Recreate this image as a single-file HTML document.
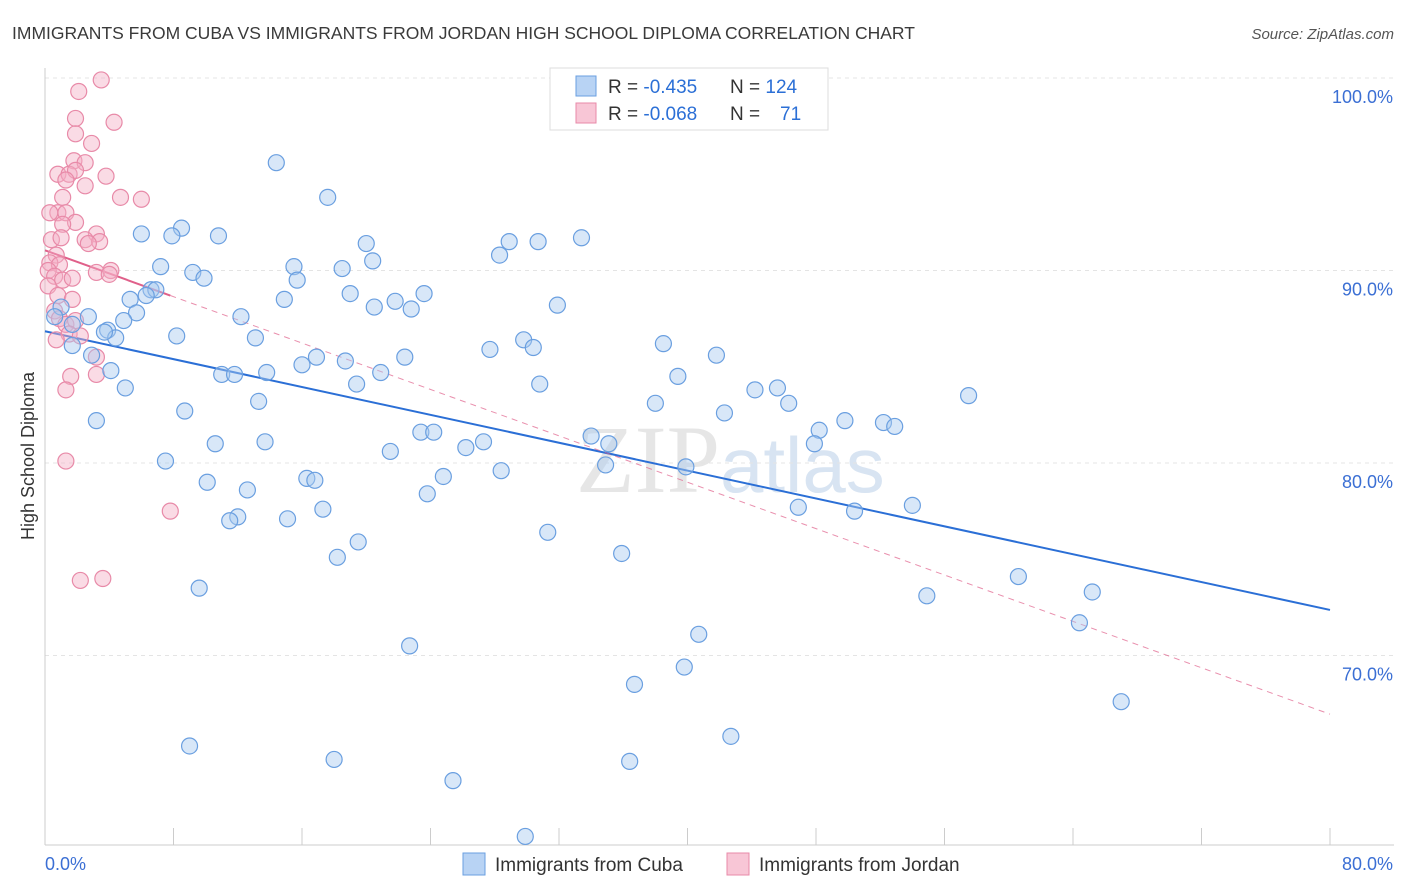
<!DOCTYPE html>
<html><head><meta charset="utf-8"><style>
body{margin:0;background:#fff;font-family:"Liberation Sans",sans-serif;}
svg{display:block}
</style></head><body>
<svg id="chart" width="1406" height="892">
<text x="12" y="39" font-size="17.5" fill="#3a3a3a">IMMIGRANTS FROM CUBA VS IMMIGRANTS FROM JORDAN HIGH SCHOOL DIPLOMA CORRELATION CHART</text>
<text x="1394" y="39" font-size="15" fill="#555" font-style="italic" text-anchor="end">Source: ZipAtlas.com</text>
<text x="720" y="492" font-size="96" fill="#e6e6e6" text-anchor="end" font-family="Liberation Serif,serif">ZIP</text>
<text x="720" y="492" font-size="78" fill="#d8e4f2">atlas</text>
<text transform="translate(34,456) rotate(-90)" font-size="18" fill="#333" text-anchor="middle">High School Diploma</text>
<g id="grid"></g><g id="ticks"></g><g id="lines"></g><g id="pts"></g>
<g>
<rect x="550" y="68" width="278" height="62" fill="#fff" stroke="#ddd"/>
<rect x="576" y="76" width="20" height="20" fill="#b8d3f4" stroke="#6a9fe0"/>
<rect x="576" y="103" width="20" height="20" fill="#f8c6d6" stroke="#e88aa8"/>
<text x="608" y="93" font-size="19" fill="#333">R = <tspan fill="#2b6fd6">-0.435</tspan><tspan x="730">N = </tspan><tspan fill="#2b6fd6">124</tspan></text>
<text x="608" y="120" font-size="19" fill="#333">R = <tspan fill="#2b6fd6">-0.068</tspan><tspan x="730">N = </tspan><tspan x="780" fill="#2b6fd6">71</tspan></text>
</g>
<g>
<rect x="463" y="853" width="22" height="22" fill="#b8d3f4" stroke="#6a9fe0"/>
<text x="495" y="871" font-size="19" fill="#333">Immigrants from Cuba</text>
<rect x="727" y="853" width="22" height="22" fill="#f8c6d6" stroke="#e88aa8"/>
<text x="759" y="871" font-size="19" fill="#333">Immigrants from Jordan</text>
</g>
</svg>
<script>
const cubaX=[14.4,17.6,8.5,6.0,7.9,10.8,20.0,28.9,30.7,33.4,28.3,20.4,7.2,15.5,18.5,9.2,9.9,15.7,6.6,6.9,6.3,5.3,14.9,19.0,21.8,23.6,20.5,22.8,31.9,1.0,0.6,2.7,5.7,4.9,12.2,1.7,3.9,8.2,4.4,13.1,3.7,1.7,29.8,30.4,27.7,38.5,41.8,2.9,16.9,16.0,18.7,22.4,4.1,13.8,20.9,11.0,11.8,39.4,19.4,30.8,5.0,44.2,45.6,57.5,13.3,38.0,46.3,8.7,42.3,3.2,49.8,52.2,52.9,48.2,23.4,24.2,34.0,13.7,10.6,27.3,35.1,26.2,47.9,21.5,7.5,34.9,39.9,28.4,24.8,16.3,16.8,10.1,23.8,12.6,46.9,54.0,50.4,17.3,12.0,11.5,15.1,31.3,19.5,35.9,18.2,60.6,9.6,65.2,54.9,64.4,40.7,22.7,39.8,36.7,67.0,42.7,9.0,18.0,36.4,25.4,29.9];
const cubaY=[95.6,93.8,92.2,91.9,91.8,91.8,91.4,91.5,91.5,91.7,90.8,90.5,90.2,90.2,90.1,89.9,89.6,89.5,89.0,89.0,88.7,88.5,88.5,88.8,88.4,88.8,88.1,88.0,88.2,88.1,87.6,87.6,87.8,87.4,87.6,87.2,86.9,86.6,86.5,86.5,86.8,86.1,86.4,86.0,85.9,86.2,85.6,85.6,85.5,85.1,85.3,85.5,84.8,84.7,84.7,84.6,84.6,84.5,84.1,84.1,83.9,83.8,83.9,83.5,83.2,83.1,83.1,82.7,82.6,82.2,82.2,82.1,81.9,81.7,81.6,81.6,81.4,81.1,81.0,81.1,81.0,80.8,81.0,80.6,80.1,79.9,79.8,79.6,79.3,79.2,79.1,79.0,78.4,78.6,77.7,77.8,77.5,77.6,77.2,77.0,77.1,76.4,75.9,75.3,75.1,74.1,73.5,73.3,73.1,71.7,71.1,70.5,69.4,68.5,67.6,65.8,65.3,64.6,64.5,63.5,60.6];
const jorX=[3.5,2.1,4.3,1.9,1.9,2.9,1.8,2.5,0.8,1.5,1.9,3.8,1.3,2.5,4.7,6.0,1.1,0.8,1.3,1.9,1.1,0.3,3.2,2.5,3.4,0.4,1.0,2.7,0.7,0.3,0.9,0.2,0.6,1.1,1.7,3.2,4.1,4.0,0.2,0.8,1.7,0.6,0.9,1.3,1.9,1.5,0.7,2.2,3.2,1.6,3.2,1.3,1.3,7.8,2.2,3.6];
const jorY=[99.9,99.3,97.7,97.9,97.1,96.6,95.7,95.6,95.0,95.0,95.2,94.9,94.7,94.4,93.8,93.7,93.8,93.0,93.0,92.5,92.4,93.0,91.9,91.6,91.5,91.6,91.7,91.4,90.8,90.4,90.3,90.0,89.7,89.5,89.6,89.9,90.0,89.8,89.2,88.7,88.5,87.9,87.5,87.2,87.4,86.7,86.4,86.6,85.5,84.5,84.6,83.8,80.1,77.5,73.9,74.0];
const yTicks=[100,90,80,70];
const xTickLabels=["0.0%","80.0%"];
const NS="http://www.w3.org/2000/svg";
const X0=45,X1=1330,Y100=78,PXPER=19.25;
const sx=v=>X0+(v/80)*(X1-X0);
const sy=v=>Y100+(100-v)*PXPER;
function mk(p,tag,a){const e=document.createElementNS(NS,tag);for(const k in a)e.setAttribute(k,a[k]);p.appendChild(e);return e;}
const grid=document.getElementById('grid'),ticks=document.getElementById('ticks'),lines=document.getElementById('lines'),pts=document.getElementById('pts');
yTicks.forEach(t=>{
 const l=mk(grid,'line',{x1:X0,x2:1394,y1:sy(t),y2:sy(t),stroke:'#e4e4e4','stroke-dasharray':'4,4'});
 
 
 const tx=mk(grid,'text',{x:1393,y:sy(t)+25,'font-size':18,fill:'#3b6fd4','text-anchor':'end'});
 tx.textContent=t.toFixed(1)+'%';
 
 
});
const ax=mk(ticks,'line',{x1:X0,x2:X0,y1:68,y2:845,stroke:'#ccc'});


const bx=mk(ticks,'line',{x1:X0,x2:1394,y1:845,y2:845,stroke:'#ccc'});


for(let i=0;i<=10;i++){const t=mk(ticks,'line',{x1:sx(i*8),x2:sx(i*8),y1:828,y2:845,stroke:'#ccc'});
 
 }
[[0,'start',45],[80,'end',1393]].forEach((d,i)=>{const t=mk(ticks,'text',{x:d[2],y:870,'font-size':18,fill:'#3b6fd4','text-anchor':d[1]});
 t.textContent=xTickLabels[i];
 
 });
function fit(xs,ys){const n=xs.length;let mx=0,my=0;xs.forEach((x,i)=>{mx+=x;my+=ys[i]});mx/=n;my/=n;let a=0,b=0;xs.forEach((x,i)=>{a+=(x-mx)*(ys[i]-my);b+=(x-mx)*(x-mx)});const s=a/b;return [s,my-s*mx];}
function drawPts(xs,ys,fill,stroke,name){xs.forEach((x,i)=>{const c=mk(pts,'circle',{cx:sx(x),cy:sy(ys[i]),r:8,fill:fill,'fill-opacity':0.45,stroke:stroke,'stroke-width':1.2});
 
 });}
drawPts(jorX,jorY,'#f5b0c6','#e88aa8','point-jordan');
drawPts(cubaX,cubaY,'#a9c9f0','#6a9fe0','point-cuba');
const fc=fit(cubaX,cubaY);
const lc=mk(lines,'line',{x1:sx(0),y1:sy(fc[1]),x2:sx(80),y2:sy(fc[1]+fc[0]*80),stroke:'#2b6fd6','stroke-width':2});


const fj=fit(jorX,jorY);
const xm=Math.max(...jorX);
const lj=mk(lines,'line',{x1:sx(0),y1:sy(fj[1]),x2:sx(xm),y2:sy(fj[1]+fj[0]*xm),stroke:'#e0608a','stroke-width':2});


const ld=mk(lines,'line',{x1:sx(xm),y1:sy(fj[1]+fj[0]*xm),x2:sx(80),y2:sy(fj[1]+fj[0]*80),stroke:'#e0608a','stroke-width':1,'stroke-dasharray':'6,5','stroke-opacity':0.7});


</script>
</body></html>
